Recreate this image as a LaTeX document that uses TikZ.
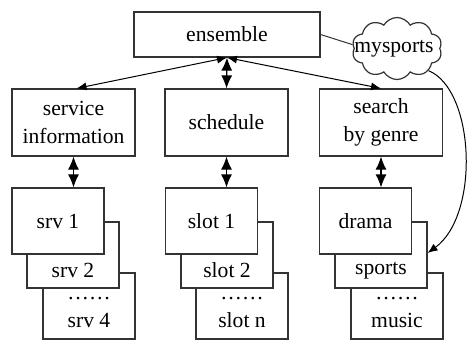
\documentclass[tikz,border=0pt]{standalone}
\usepackage{fontspec}
\setmainfont{Liberation Serif}
\usetikzlibrary{arrows.meta,shapes.symbols}
\begin{document}
\begin{tikzpicture}[x=0.5pt,y=-0.5pt,font=\fontsize{10.8}{14}\selectfont]
      \useasboundingbox (0,0) rectangle (470,339);

      \tikzstyle{menu} = [
        rectangle,
        draw=black!80,
        line width=0.6pt,
        fill=white,
        align=center,
        inner sep=0pt,
        minimum width=61.5pt,
        minimum height=33.5pt,
      ]
      \tikzstyle{page} = [
        menu,
        minimum width=46pt,
        minimum height=33pt,
      ]
      \tikzstyle{pagelabel} = [
        draw=none,
        align=center,
        inner sep=0pt
      ]

      \tikzstyle{link} = [line width=0.5pt,<->,>={Latex[length=5pt,width=4pt]}, draw=black]
      \tikzstyle{down} = [line width=0.6pt,<->,>={Latex[length=6.5pt,width=5.5pt]}, draw=black]

      % top
      \node[menu,minimum width=93pt,minimum height=22.5pt] (ensemble) at (227,34.5) {ensemble};
      \node[cloud,draw=black!80,line width=0.6pt,cloud puffs=10,cloud puff arc=120,aspect=1.5,
            inner sep=0pt,minimum width=45pt,minimum height=31pt] (mysports) at (397,48.5) {};
      \node[pagelabel] (mysportslabel) at (394,49) {mysports};

      % menus
      \node[menu] (service) at (73.5,122.5) {service\\information};
      \node[menu] (schedule) at (226.5,122.5) {schedule};
      \node[menu] (genre) at (381,122.5) {search\\by genre};

      % services
      \node[page] (srv4) at (89,306) {};
      \node[page] (srv2) at (73,255) {};
      \node[page] (srv1) at (58,221) {srv 1};
      \node[pagelabel] (srv2label) at (73,270.5) {srv 2};
      \node[pagelabel] (srv4label) at (89,312) {\textellipsis\textellipsis\\srv 4};

      % slots
      \node[page] (slotn) at (242,306) {};
      \node[page] (slot2) at (227,255) {};
      \node[page] (slot1) at (211.5,221) {slot 1};
      \node[pagelabel] (slot2label) at (227,270.5) {slot 2};
      \node[pagelabel] (slotnlabel) at (242,312) {\textellipsis\textellipsis\\slot n};

      % genres
      \node[page] (music) at (397,306) {};
      \node[page] (sports) at (381,255) {};
      \node[page] (drama) at (365.5,221) {drama};
      \node[pagelabel] (sportslabel) at (381,270.5) {sports};
      \node[pagelabel] (musiclabel) at (397,312) {\textellipsis\textellipsis\\music};

      % ensemble links
      \draw[link] (ensemble.south) -- ([xshift=1.5pt] service.north);
      \draw[down] (ensemble.south) -- (schedule.north);
      \draw[link] (ensemble.south) -- (genre.north);

      % menu links
      \draw[down] (service.south) -- (service.south |- srv1.north);
      \draw[down] (schedule.south) -- (schedule.south |- slot1.north);
      \draw[down] (genre.south) -- (genre.south |- drama.north);

      % mysports
      \draw[line width=0.5pt,draw=black!80] (ensemble.east) -- (mysports.175);
      \draw[line width=0.5pt,->,>={Latex[length=5pt,width=4pt]}] (mysports.-35) .. controls (475,90) and (480,215) .. ([yshift=1pt] sports.east);
    \end{tikzpicture}
\end{document}
